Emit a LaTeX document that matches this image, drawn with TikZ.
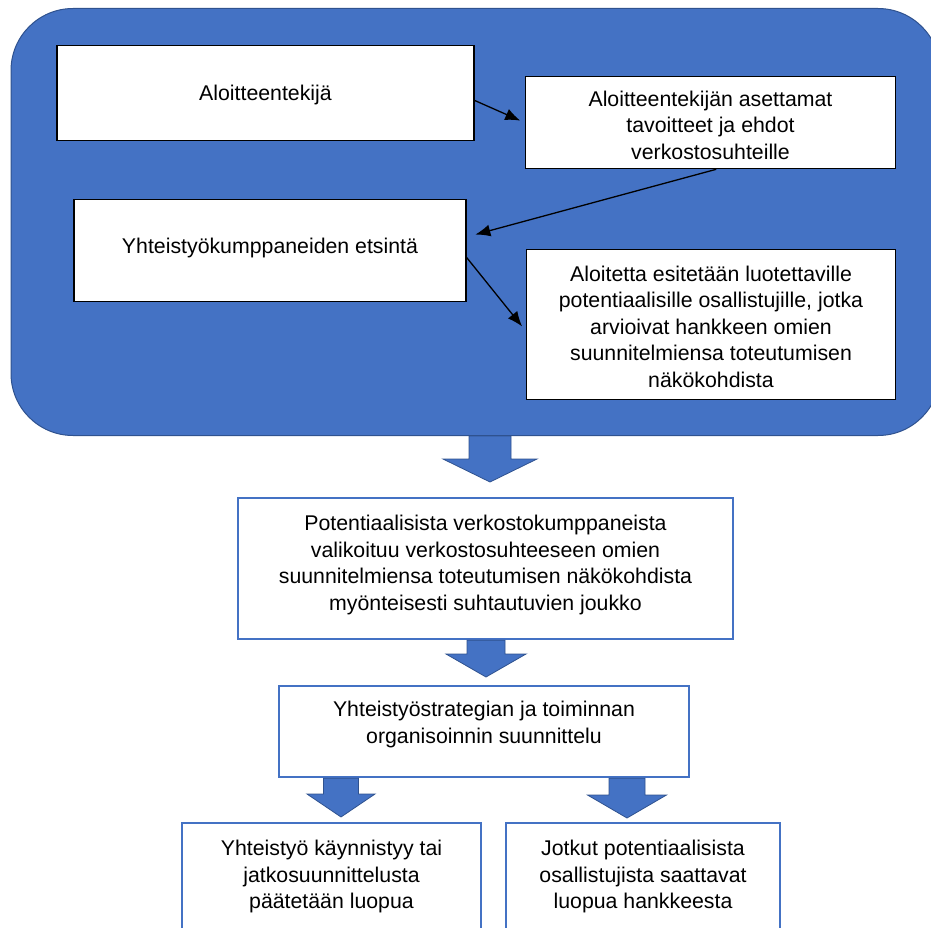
\documentclass[tikz,border=0pt]{standalone}
\usepackage{fontspec}
\setmainfont{Liberation Sans}
\usepackage{tikz}
\usetikzlibrary{arrows.meta,calc}
\definecolor{boxblue}{HTML}{4472C4}
\definecolor{edgeblue}{HTML}{2F528F}

\begin{document}
\begin{tikzpicture}[x=1pt, y=-1pt,
		every node/.style={font=\fontsize{21.3}{26.5}\selectfont, align=center, inner sep=0pt, anchor=north},
		whitebox/.style={draw=black, fill=white, line width=1.3pt},
		bluebox/.style={draw=boxblue, fill=white, line width=2.2pt},
		blockarrow/.style={fill=boxblue, draw=edgeblue, line width=0.8pt, line join=miter}]
		\path[use as bounding box, clip] (0,0) rectangle (931,928);

		\node[fill=boxblue, draw=edgeblue, line width=1pt, rounded corners=62pt,
			minimum width=929pt, minimum height=427pt] (outer) at (475.5,8) {};

		\node[whitebox, minimum width=417pt, text height=54.5pt, text depth=40.5pt] (ini) at (265.5,45) {Aloitteentekijä};
		\node[whitebox, minimum width=370pt, text height=82.5pt, text depth=9.5pt] (goals) at (710.5,76)
			{Aloitteentekijän asettamat\\tavoitteet ja ehdot\\verkostosuhteille};
		\node[whitebox, minimum width=392pt, text height=53.5pt, text depth=48.5pt] (search) at (270,199)
			{Yhteistyökumppaneiden etsintä};
		\node[whitebox, minimum width=369pt, text height=137.5pt, text depth=12.5pt] (present) at (711,249)
			{Aloitetta esitetään luotettaville\\potentiaalisille osallistujille, jotka\\arvioivat hankkeen omien\\suunnitelmiensa toteutumisen\\näkökohdista};

		\node[bluebox, minimum width=495pt, text height=112pt, text depth=29pt] (select) at (485.5,497)
			{Potentiaalisista verkostokumppaneista\\valikoituu verkostosuhteeseen omien\\suunnitelmiensa toteutumisen näkökohdista\\myönteisesti suhtautuvien joukko};
		\node[bluebox, minimum width=410pt, text height=57pt, text depth=34pt] (plan) at (484,685)
			{Yhteistyöstrategian ja toiminnan\\organisoinnin suunnittelu};
		\node[bluebox, minimum width=299pt, text height=85.5pt, text depth=72.5pt] (stay) at (331.5,822)
			{Yhteistyö käynnistyy tai\\jatkosuunnittelusta\\päätetään luopua};
		\node[bluebox, minimum width=274pt, text height=85.5pt, text depth=72.5pt] (leave) at (643,822)
			{Jotkut potentiaalisista\\osallistujista saattavat\\luopua hankkeesta};

		\foreach \s/\t/\gap in {ini.-2.6/goals.west/5, goals.-83/search.4.3/9, search.-2/present.-178.7/6} {
			\draw[-{Latex[length=15pt, width=12pt]}, line width=1.3pt, shorten >=\gap pt] (\s) -- (\t);
		}

		\foreach \s/\t/\cx/\sw/\hw/\gap in {outer/select/490/21/47/15, select/plan/486/19/40/8, plan/stay/341/17.5/34/5, plan/leave/627/18/39.5/4} {
			\draw[blockarrow] let \p1 = (\s.south), \p2 = (\t.north) in
				(\cx pt-\sw pt,\y1) -- (\cx pt-\sw pt,\y2+\gap pt+23pt) -- (\cx pt-\hw pt,\y2+\gap pt+23pt)
				-- (\cx pt,\y2+\gap pt) -- (\cx pt+\hw pt,\y2+\gap pt+23pt) -- (\cx pt+\sw pt,\y2+\gap pt+23pt)
				-- (\cx pt+\sw pt,\y1) -- cycle;
		}
	\end{tikzpicture}
\end{document}
